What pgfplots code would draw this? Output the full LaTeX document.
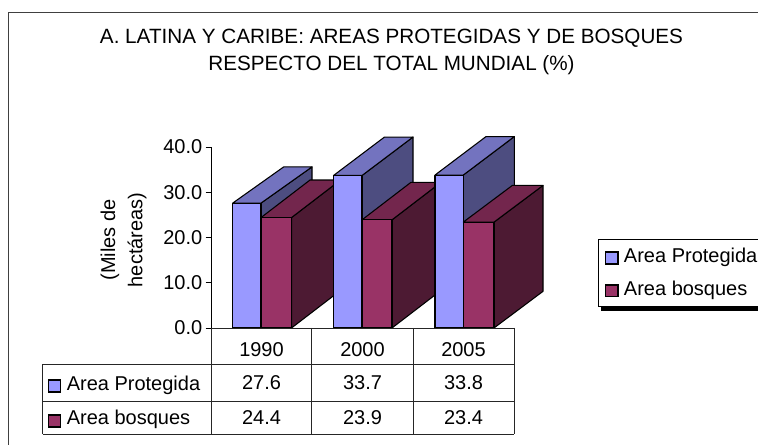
\documentclass[border=0pt]{standalone}
\usepackage{pgfplots}
\pgfplotsset{compat=1.18}
\usepackage{fontspec}
\setmainfont{Liberation Sans}
\definecolor{bluef}{HTML}{9999FF}
\definecolor{bluet}{HTML}{7373BF}
\definecolor{blues}{HTML}{4D4D80}
\definecolor{marf}{HTML}{993366}
\definecolor{mart}{HTML}{73264D}
\definecolor{mars}{HTML}{4D1A33}
\definecolor{frameg}{HTML}{404040}
% one 3-D bar: x left, x right (px), value, depth in value units, front, top, side, depth in px
\newcommand\threeD[8]{%
  \pgfmathsetmacro\xc{#2+#8}\pgfmathsetmacro\xd{#1+#8}\pgfmathsetmacro\yb{#3+#4}\pgfmathsetmacro\yc{#4}%
  \addplot[fill=#7,draw=black,line width=0.8pt,line join=round] coordinates {(#2,0)(\xc,\yc)(\xc,\yb)(#2,#3)} --cycle;
  \addplot[fill=#6,draw=black,line width=0.8pt,line join=round] coordinates {(#1,#3)(\xd,\yb)(\xc,\yb)(#2,#3)} --cycle;
  \addplot[fill=#5,draw=black,line width=0.8pt,line join=round] coordinates {(#1,0)(#2,0)(#2,#3)(#1,#3)} --cycle;
}
\begin{document}
\begin{tikzpicture}
\begin{scope}[x=0.75pt,y=-0.75pt,yshift=333.75pt]
\fill[white] (0,0) rectangle (758,445);
\draw[frameg,line width=1.1pt] (8.5,446) -- (8.5,12.5) -- (759,12.5);
\node[font=\fontsize{15.5}{15.5}\selectfont,anchor=center] at (391.5,38) {A. LATINA Y CARIBE: AREAS PROTEGIDAS Y DE BOSQUES};
\node[font=\fontsize{15.5}{15.5}\selectfont,anchor=center] at (391.5,65) {RESPECTO DEL TOTAL MUNDIAL (\%)};
\end{scope}
\begin{axis}[
  at={(158.25pt,87.75pt)},anchor=origin,
  scale only axis,width=227.25pt,height=135.75pt,
  xmin=211,xmax=514,ymin=0,ymax=40,clip=false,
  axis x line=bottom,axis y line=left,axis line style={-,line width=0.7pt},
  xtick={261.5,362.5,463.5},xticklabels={1990,2000,2005},
  ytick={0,10,20,30,40},
  x tick style={draw=none},y tick style={black,line width=0.7pt},
  tick align=outside,major tick length=4pt,
  tick label style={font=\fontsize{15}{15}\selectfont},
  y tick label style={/pgf/number format/.cd,fixed,fixed zerofill,precision=1,assume math mode=true},
  x tick label style={/pgf/number format/assume math mode=true},
  yticklabel shift=-1pt,
  xticklabel shift=3pt,
]
\threeD{232.7}{261}{27.6}{8.0}{bluef}{bluet}{blues}{51}
\threeD{261}{291.5}{24.4}{8.3}{marf}{mart}{mars}{49}
\threeD{333.5}{362}{33.7}{8.5}{bluef}{bluet}{blues}{51}
\threeD{362}{392}{23.9}{8.3}{marf}{mart}{mars}{49}
\threeD{435}{463.3}{33.8}{8.5}{bluef}{bluet}{blues}{51}
\threeD{463.3}{494}{23.4}{8.1}{marf}{mart}{mars}{49}
\end{axis}
\begin{scope}[x=0.75pt,y=-0.75pt,yshift=333.75pt]
% y title
\node[rotate=90,font=\fontsize{15}{15}\selectfont,anchor=center] at (110,240) {(Miles de};
\node[rotate=90,font=\fontsize{15}{15}\selectfont,anchor=center] at (137,240) {hectáreas)};
% data table
\draw[black!85,line width=0.7pt] (211,328) -- (211,434) (311.5,328) -- (311.5,434) (413,328) -- (413,434) (514,328) -- (514,434)
  (211,328) -- (514,328) (42.5,364.5) -- (514,364.5) (42.5,401.5) -- (514,401.5) (42.5,434) -- (514,434) (42.5,364.5) -- (42.5,434);
\foreach \x/\a/\b in {261.5/27.6/24.4,362.5/33.7/23.9,463.5/33.8/23.4}{
  \node[font=\fontsize{15}{15}\selectfont] at (\x,383) {\a};
  \node[font=\fontsize{15}{15}\selectfont] at (\x,418) {\b};
}
\draw[black,fill=bluef,line width=0.8pt] (48.5,380) rectangle (60.5,392);
\draw[black,fill=marf,line width=0.8pt] (48.5,415) rectangle (60.5,427);
\node[font=\fontsize{15}{15}\selectfont,anchor=base west,inner sep=0pt] at (66.5,391) {Area Protegida};
\node[font=\fontsize{15}{15}\selectfont,anchor=base west,inner sep=0pt] at (66.5,425) {Area bosques};
% legend
\fill[black] (601,306) rectangle (760,311);
\draw[black,fill=white,line width=0.7pt] (598.5,239.5) rectangle (760,306);
\draw[black,fill=bluef,line width=0.8pt] (605.7,252) rectangle (618,264);
\draw[black,fill=marf,line width=0.8pt] (605.7,285) rectangle (618,296.7);
\node[font=\fontsize{15}{15}\selectfont,anchor=base west,inner sep=0pt] at (623.7,263) {Area Protegida};
\node[font=\fontsize{15}{15}\selectfont,anchor=base west,inner sep=0pt] at (623.7,296) {Area bosques};
\pgfresetboundingbox
\path[use as bounding box] (0,0) rectangle (758,445);
\end{scope}
\end{tikzpicture}
\end{document}
